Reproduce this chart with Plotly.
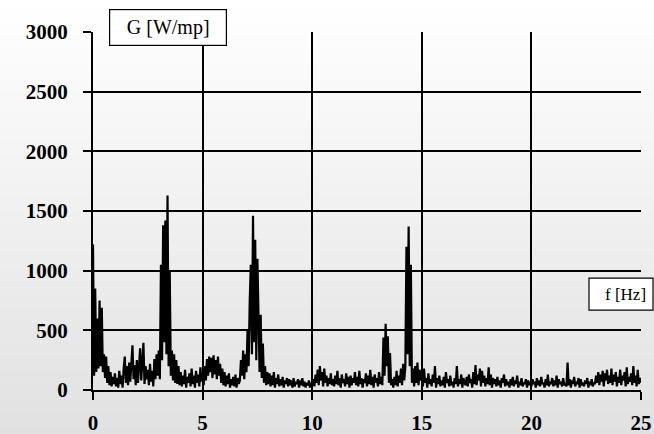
import plotly.graph_objects as go

# frequency step 0.05 Hz, from 0 to 25 Hz
f_start = 0.0
f_step = 0.05

G_00 = [1220, 120, 850, 150, 600, 180, 750, 200, 690, 150, 300, 100, 280, 60, 200, 40, 150, 30, 110, 50]
G_01 = [140, 30, 100, 20, 160, 50, 120, 20, 180, 280, 60, 200, 40, 230, 70, 260, 375, 90, 210, 40]
G_02 = [250, 60, 180, 350, 80, 240, 395, 50, 200, 90, 170, 40, 220, 70, 160, 30, 260, 90, 300, 120]
G_03 = [330, 90, 1050, 250, 1380, 400, 1420, 300, 1630, 200, 1000, 120, 330, 80, 300, 60, 250, 50, 200, 40]
G_04 = [150, 30, 120, 50, 170, 20, 110, 60, 140, 30, 180, 50, 120, 20, 160, 60, 130, 30, 190, 70]
G_05 = [140, 40, 200, 80, 260, 120, 280, 150, 270, 100, 290, 130, 250, 90, 280, 120, 220, 60, 180, 40]
G_06 = [150, 30, 120, 50, 140, 20, 90, 40, 110, 30, 130, 20, 100, 50, 80, 250, 120, 330, 90, 300]
G_07 = [150, 500, 200, 750, 1050, 300, 1460, 400, 1260, 250, 1100, 620, 150, 630, 100, 390, 60, 200, 40, 150]
G_08 = [50, 140, 30, 120, 40, 150, 20, 100, 50, 130, 30, 90, 40, 110, 20, 80, 50, 100, 30, 90]
G_09 = [40, 80, 20, 100, 30, 70, 50, 90, 20, 80, 40, 100, 30, 70, 20, 60, 40, 80, 20, 60]
G_10 = [40, 90, 30, 130, 60, 170, 40, 200, 80, 150, 30, 180, 60, 120, 30, 100, 50, 140, 40, 90]
G_11 = [30, 120, 50, 160, 40, 100, 20, 130, 60, 90, 30, 140, 50, 110, 20, 120, 40, 100, 60, 150]
G_12 = [40, 110, 30, 160, 50, 100, 20, 90, 60, 140, 30, 120, 50, 170, 40, 110, 20, 130, 60, 100]
G_13 = [30, 150, 50, 110, 40, 440, 120, 555, 200, 450, 60, 310, 40, 90, 20, 110, 40, 160, 30, 120]
G_14 = [60, 180, 40, 220, 80, 200, 1200, 300, 1370, 200, 1050, 60, 180, 30, 200, 60, 230, 40, 170, 80]
G_15 = [120, 30, 180, 60, 100, 20, 140, 50, 90, 30, 130, 60, 200, 20, 100, 50, 120, 30, 80, 40]
G_16 = [110, 20, 150, 60, 90, 30, 120, 40, 70, 20, 100, 50, 200, 30, 90, 50, 130, 20, 100, 60]
G_17 = [40, 110, 30, 130, 60, 90, 20, 150, 50, 210, 40, 130, 80, 180, 30, 160, 60, 120, 30, 100]
G_18 = [50, 190, 40, 130, 20, 100, 50, 90, 30, 110, 40, 80, 20, 100, 60, 130, 30, 90, 40, 70]
G_19 = [20, 90, 40, 110, 30, 80, 50, 120, 20, 70, 40, 100, 30, 60, 50, 90, 20, 80, 40, 70]
G_20 = [30, 90, 50, 70, 20, 100, 40, 80, 30, 110, 50, 60, 20, 90, 40, 130, 30, 70, 50, 100]
G_21 = [30, 80, 40, 120, 20, 90, 50, 70, 30, 100, 40, 60, 30, 230, 40, 90, 20, 80, 50, 110]
G_22 = [30, 70, 50, 100, 20, 90, 40, 60, 30, 80, 50, 100, 20, 70, 40, 90, 30, 60, 50, 120]
G_23 = [60, 150, 40, 130, 70, 160, 30, 140, 80, 170, 50, 120, 60, 180, 40, 130, 70, 150, 30, 110]
G_24 = [60, 170, 40, 120, 80, 150, 30, 190, 50, 110, 70, 140, 40, 200, 60, 120, 30, 170, 50, 100]
G_25 = [60]

G_values = (G_00 + G_01 + G_02 + G_03 + G_04 + G_05 + G_06 + G_07 + G_08 + G_09 +
            G_10 + G_11 + G_12 + G_13 + G_14 + G_15 + G_16 + G_17 + G_18 + G_19 +
            G_20 + G_21 + G_22 + G_23 + G_24 + G_25)
freq = [round(f_start + i * f_step, 3) for i in range(len(G_values))]

x_ticks = [0, 5, 10, 15, 20, 25]
y_ticks = [0, 500, 1000, 1500, 2000, 2500, 3000]
y_label = "G [W/mp]"
x_label = "f [Hz]"

SERIF = "Liberation Serif, Times New Roman, Times, DejaVu Serif, serif"

fig = go.Figure()
fig.add_trace(go.Scatter(x=freq, y=G_values, mode="lines",
                         line=dict(color="black", width=2.2), hoverinfo="skip"))

# gradient background (white at top -> light grey at bottom)
W, H = 654, 434
l, r, t, b = 93, 13, 31.5, 44
pw, ph = W - l - r, H - t - b
shapes = []
n = 62
for i in range(n):
    py0 = H * i / n
    py1 = H * (i + 1) / n + 0.6
    frac = (i + 0.5) / n
    c = int(round(255 - 30 * frac))
    shapes.append(dict(type="rect", xref="paper", yref="paper",
                       x0=-l / pw, x1=1 + r / pw,
                       y0=(H - b - py1) / ph, y1=(H - b - py0) / ph,
                       fillcolor=f"rgb({c},{c},{c})", line=dict(width=0), layer="below"))
# f [Hz] box (below grid lines, so the line at 25 crosses it)
shapes.append(dict(type="rect", xref="paper", yref="paper",
                   x0=(589 - l) / pw, x1=(653 - l) / pw,
                   y0=(H - b - 310) / ph, y1=(H - b - 278) / ph,
                   fillcolor="white", line=dict(color="black", width=1.2), layer="below"))
fig.update_layout(shapes=shapes)

fig.add_annotation(text=y_label, xref="paper", yref="paper",
                   x=(167.5 - l) / pw, y=(H - b - 26.5) / ph,
                   xanchor="center", yanchor="middle", showarrow=False,
                   font=dict(family=SERIF, size=20, color="black"),
                   bgcolor="white", bordercolor="black", borderwidth=1.2,
                   width=114, height=33, borderpad=1)
fig.add_annotation(text=x_label, xref="paper", yref="paper",
                   x=(625 - l) / pw, y=(H - b - 294) / ph,
                   xanchor="center", yanchor="middle", showarrow=False,
                   font=dict(family=SERIF, size=17, color="black"))

tickfont = dict(family=SERIF, size=21, color="black", weight="bold")
fig.update_xaxes(range=[0, 25], tickvals=x_ticks, showgrid=True, gridcolor="black",
                 gridwidth=2, ticks="outside", ticklen=8, tickwidth=2, tickcolor="black",
                 zeroline=False, showline=True, linecolor="black", linewidth=2,
                 tickfont=tickfont, ticklabelstandoff=5, automargin=False)
fig.update_yaxes(range=[0, 3000], tickvals=y_ticks, showgrid=True, gridcolor="black",
                 gridwidth=2, ticks="outside", ticklen=8, tickwidth=2, tickcolor="black",
                 zeroline=False, showline=True, linecolor="black", linewidth=2,
                 tickfont=tickfont, ticklabelstandoff=11, automargin=False)
fig.update_layout(width=W, height=H, margin=dict(l=l, r=r, t=t, b=b, autoexpand=False),
                  paper_bgcolor="white", plot_bgcolor="rgba(0,0,0,0)",
                  showlegend=False)
fig.write_html("out.html", config={"displayModeBar": False},
               post_script="document.body.style.margin='0px';")
